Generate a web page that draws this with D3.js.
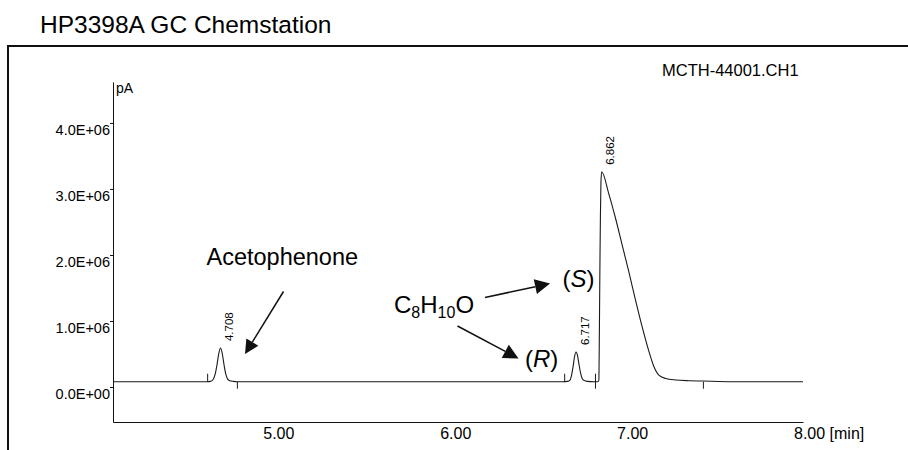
<!DOCTYPE html>
<html>
<head>
<meta charset="utf-8">
<script src="https://cdn.jsdelivr.net/npm/d3@7"></script>
<style>
  body { margin: 0; background: #fff; }
  svg { display: block; }
  text { font-family: "Liberation Sans", Arial, Helvetica, sans-serif; fill: #000; }
</style>
</head>
<body>
<svg id="chart" width="908" height="450"></svg>
<script>
// FID signal trace: retention time [min] and detector signal [pA]
const traceTime = [
  4.100, 4.630, 4.650, 4.665, 4.677, 4.688, 4.698, 4.708, 4.718, 4.728, 4.738, 4.748, 4.760, 4.780, 4.800,
  6.640, 6.670, 6.682, 6.692, 6.700, 6.708, 6.717, 6.726, 6.734, 6.743, 6.752, 6.763, 6.780, 6.820,
  6.840, 6.846, 6.849, 6.852, 6.855, 6.858, 6.862, 6.902, 6.940, 6.978, 7.015, 7.053, 7.091, 7.129,
  7.157, 7.185, 7.223, 7.280, 7.356, 7.431, 7.600, 8.000
];
const traceSignal = [
  0.08e6, 0.08e6, 0.085e6, 0.11e6, 0.19e6, 0.34e6, 0.51e6, 0.59e6, 0.50e6, 0.33e6, 0.19e6, 0.12e6, 0.095e6, 0.085e6, 0.08e6,
  0.08e6, 0.085e6, 0.10e6, 0.18e6, 0.30e6, 0.45e6, 0.53e6, 0.47e6, 0.34e6, 0.21e6, 0.13e6, 0.10e6, 0.085e6, 0.08e6,
  0.08e6, 0.10e6, 0.8e6, 1.8e6, 2.6e6, 3.1e6, 3.26e6, 2.93e6, 2.56e6, 2.15e6, 1.75e6, 1.32e6, 0.91e6, 0.54e6,
  0.31e6, 0.18e6, 0.13e6, 0.106e6, 0.095e6, 0.09e6, 0.08e6, 0.08e6
];

// Integrated peaks (retention time labels)
const peakTimes = [4.708, 6.717, 6.862];
const peakLabels = ["4.708", "6.717", "6.862"];

// Integration event marks on the baseline
const eventTimes = [4.635, 4.803, 6.653, 6.827, 7.437];
const eventKinds = ["start", "end", "start", "both", "end"];
const baselineSignal = 0.08e6;

// Axis ticks
const yTickValues = [0, 1e6, 2e6, 3e6, 4e6];
const yTickLabels = ["0.0E+00", "1.0E+06", "2.0E+06", "3.0E+06", "4.0E+06"];
const xTickValues = [5, 6, 7, 8];
const xTickLabels = ["5.00", "6.00", "7.00", "8.00 [min]"];

const svg = d3.select("#chart");

const x = d3.scaleLinear().domain([4.1, 8.0]).range([113, 803]);
const y = d3.scaleLinear().domain([-0.53e6, 4.62e6]).range([422, 82]);

// Report frame
svg.append("line").attr("x1", 8).attr("x2", 908).attr("y1", 46).attr("y2", 46)
  .attr("stroke", "#111").attr("stroke-width", 2);
svg.append("line").attr("x1", 8).attr("x2", 8).attr("y1", 45).attr("y2", 450)
  .attr("stroke", "#111").attr("stroke-width", 2);

// Header texts
svg.append("text").attr("x", 40).attr("y", 33)
  .style("font-size", "24.5px").text("HP3398A GC Chemstation");
svg.append("text").attr("x", 662).attr("y", 76)
  .style("font-size", "16.5px").text("MCTH-44001.CH1");

// Y axis
const yAxis = svg.append("g").attr("transform", "translate(113,0)")
  .call(d3.axisLeft(y).tickValues(yTickValues)
    .tickFormat((d, i) => yTickLabels[i])
    .tickSize(3).tickSizeOuter(0).tickPadding(0));
yAxis.select(".domain").attr("stroke", "#111");
yAxis.selectAll(".tick line").attr("stroke", "#111");
yAxis.selectAll(".tick text")
  .attr("dy", "0.78em")
  .style("font-size", "14.5px")
  .style("font-family", "'Liberation Sans', Arial, sans-serif");

svg.append("text").attr("x", 116).attr("y", 93)
  .style("font-size", "14px").text("pA");

// X axis
const xAxis = svg.append("g").attr("transform", "translate(0,422)")
  .call(d3.axisBottom(x).tickValues(xTickValues)
    .tickFormat((d, i) => xTickLabels[i])
    .tickSize(0).tickSizeOuter(0).tickPadding(0));
xAxis.select(".domain").attr("stroke", "#111");
xAxis.selectAll(".tick text")
  .attr("text-anchor", "start")
  .attr("x", -9.5)
  .attr("y", 16.5)
  .attr("dy", 0)
  .style("font-size", "16px")
  .style("font-family", "'Liberation Sans', Arial, sans-serif");

// Signal trace
const points = traceTime.map((t, i) => [t, traceSignal[i]]);
const line = d3.line()
  .x(d => x(d[0]))
  .y(d => y(d[1]))
  .curve(d3.curveMonotoneX);
svg.append("path")
  .datum(points)
  .attr("fill", "none")
  .attr("stroke", "#1a1a1a")
  .attr("stroke-width", 1.1)
  .attr("d", line);

// Integration event marks
const markUp = 8, markDown = 7;
svg.append("g").selectAll("line")
  .data(eventTimes.map((t, i) => ({ t, kind: eventKinds[i] })))
  .join("line")
  .attr("x1", d => x(d.t)).attr("x2", d => x(d.t))
  .attr("y1", d => y(baselineSignal) - (d.kind === "end" ? 0 : markUp))
  .attr("y2", d => y(baselineSignal) + (d.kind === "start" ? 0 : markDown))
  .attr("stroke", "#1a1a1a").attr("stroke-width", 1);

// Retention time labels at the peak apexes
svg.append("g").selectAll("text")
  .data(peakTimes.map((t, i) => ({ t, v: traceSignal[traceTime.indexOf(t)], label: peakLabels[i] })))
  .join("text")
  .attr("transform", d => `translate(${x(d.t) + 12.5},${y(d.v) - 7}) rotate(-90)`)
  .attr("text-anchor", "start")
  .style("font-size", "11.5px")
  .text(d => d.label);

// Annotations
function arrow(x1, y1, x2, y2, len, half) {
  const a = Math.atan2(y2 - y1, x2 - x1);
  const bx = x2 - len * Math.cos(a), by = y2 - len * Math.sin(a);
  svg.append("line").attr("x1", x1).attr("y1", y1).attr("x2", bx).attr("y2", by)
    .attr("stroke", "#111").attr("stroke-width", 1.5);
  const px = -Math.sin(a) * half, py = Math.cos(a) * half;
  svg.append("polygon")
    .attr("points", [[x2, y2], [bx + px, by + py], [bx - px, by - py]].map(p => p.join(",")).join(" "))
    .attr("fill", "#111");
}

svg.append("text").attr("x", 206.5).attr("y", 265)
  .style("font-size", "23.5px").text("Acetophenone");
arrow(283.5, 291.5, 245, 354, 14, 7);

const formula = svg.append("text").attr("x", 394).attr("y", 313).style("font-size", "24px");
formula.append("tspan").text("C");
formula.append("tspan").attr("dy", 5).style("font-size", "16px").text("8");
formula.append("tspan").attr("dy", -5).text("H");
formula.append("tspan").attr("dy", 5).style("font-size", "16px").text("10");
formula.append("tspan").attr("dy", -5).text("O");

arrow(485, 297.5, 550, 283.5, 15, 7.5);
arrow(457.5, 326, 518.5, 358.5, 15, 7.5);

const sLabel = svg.append("text").attr("x", 562.5).attr("y", 287).style("font-size", "24px");
sLabel.append("tspan").text("(");
sLabel.append("tspan").style("font-style", "italic").text("S");
sLabel.append("tspan").text(")");

const rLabel = svg.append("text").attr("x", 525).attr("y", 367).style("font-size", "24px");
rLabel.append("tspan").text("(");
rLabel.append("tspan").style("font-style", "italic").text("R");
rLabel.append("tspan").text(")");
</script>
</body>
</html>
